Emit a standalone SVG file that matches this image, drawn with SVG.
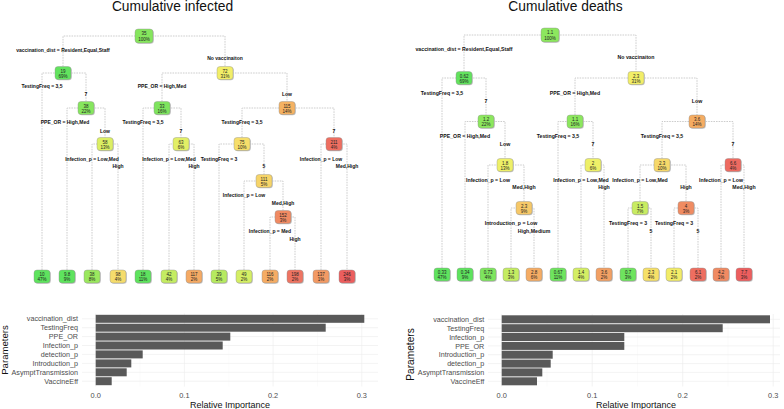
<svg xmlns="http://www.w3.org/2000/svg" xmlns:xlink="http://www.w3.org/1999/xlink" width="784" height="409" viewBox="0 0 784 409">
<style>
.title{font-family:"Liberation Sans",Arial,sans-serif;font-size:13.8px;fill:#111;text-anchor:middle}
.node text{font-family:"Liberation Sans",Arial,sans-serif;font-size:4.5px;fill:#222;text-anchor:middle}
.sh{fill:#c4c4c4}
.bx{stroke:#909090;stroke-width:0.4}
.sl{font-family:"Liberation Sans",Arial,sans-serif;font-weight:bold;font-size:5px;fill:#111;text-anchor:middle}
.slr{font-family:"Liberation Sans",Arial,sans-serif;font-weight:bold;font-size:5.2px;fill:#111;text-anchor:middle}
.cn path{fill:none;stroke:#b8b8b8;stroke-width:0.7;stroke-dasharray:1.6 1}
.gmaj{stroke:#ebebeb;stroke-width:0.6;fill:none}
.gmin{stroke:#f3f3f3;stroke-width:0.35;fill:none}
.bar{fill:#595959}
.cat{font-family:"Liberation Sans",Arial,sans-serif;font-size:7.2px;fill:#4d4d4d;text-anchor:end}
.tick{font-family:"Liberation Sans",Arial,sans-serif;font-size:7.4px;fill:#4d4d4d;text-anchor:middle}
.axt{font-family:"Liberation Sans",Arial,sans-serif;font-size:9px;fill:#111;text-anchor:middle}
</style>
<defs>
<rect id="b" x="-8" y="-6.5" width="16" height="13" rx="3"/>
<rect id="br" x="-9" y="-7" width="18" height="14" rx="3.2"/>
</defs>
<rect width="784" height="409" fill="#fff"/>

<text class="title" x="172.5" y="11">Cumulative infected</text>
<text class="title" x="565.5" y="11">Cumulative deaths</text>

<!-- LEFT TREE connectors -->
<g id="connectors-infected" class="cn">
<path d="M63,66.5V36H225V66.5"/>
<path d="M42,270V73H86V101.5"/>
<path d="M67,270V108H105V137.5"/>
<path d="M92,270V144H118V270"/>
<path d="M162,101.5V73H287V101.5"/>
<path d="M143,270V108H181V137.5"/>
<path d="M169,270V144H194V270"/>
<path d="M242,137.5V108H334V137.5"/>
<path d="M219,270V144H264V174.5"/>
<path d="M244,270V181H283V210.5"/>
<path d="M270,270V217H295V270"/>
<path d="M321,270V144H347V270"/>
</g>

<!-- RIGHT TREE connectors -->
<g id="connectors-deaths" class="cn">
<path d="M464,71.5V35H636V71.5"/>
<path d="M442,268V78H486V115"/>
<path d="M465,268V121.5H505V158.5"/>
<path d="M488,268V165H524V201.5"/>
<path d="M511,268V208H534V268"/>
<path d="M575,115V78H697V115"/>
<path d="M558,268V121.5H593V158.5"/>
<path d="M581,268V165H604V268"/>
<path d="M662,158.5V121.5H733V158.5"/>
<path d="M640,201.5V165H686V201.5"/>
<path d="M628,268V208H651V268"/>
<path d="M674,268V208H698V268"/>
<path d="M721,268V165H744V268"/>
</g>

<!-- split labels left -->
<g id="labels-infected">
<text class="sl" x="63" y="51.8">vaccination_dist = Resident,Equal,Staff</text>
<text class="sl" x="225" y="59.8">No vaccinaiton</text>
<text class="sl" x="42" y="88">TestingFreq = 3,5</text>
<text class="sl" x="86" y="96">7</text>
<text class="sl" x="65" y="123.8">PPE_OR = High,Med</text>
<text class="sl" x="105" y="132.8">Low</text>
<text class="sl" x="92" y="160.8">Infection_p = Low,Med</text>
<text class="sl" x="118" y="167.8">High</text>
<text class="sl" x="162" y="87.8">PPE_OR = High,Med</text>
<text class="sl" x="287" y="95.8">Low</text>
<text class="sl" x="143" y="123.8">TestingFreq = 3,5</text>
<text class="sl" x="181" y="132.8">7</text>
<text class="sl" x="169" y="160.8">Infection_p = Low,Med</text>
<text class="sl" x="194" y="167.8">High</text>
<text class="sl" x="242" y="123.8">TestingFreq = 3,5</text>
<text class="sl" x="334" y="132.8">7</text>
<text class="sl" x="219" y="160.8">TestingFreq = 3</text>
<text class="sl" x="264" y="167.8">5</text>
<text class="sl" x="244" y="196.8">Infection_p = Low</text>
<text class="sl" x="283" y="204.8">Med,High</text>
<text class="sl" x="270" y="232.8">Infection_p = Med</text>
<text class="sl" x="295" y="240.8">High</text>
<text class="sl" x="321" y="160.8">Infection_p = Low</text>
<text class="sl" x="347" y="167.8">Med,High</text>
</g>

<!-- split labels right -->
<g id="labels-deaths">
<text class="slr" x="464" y="50.8">vaccination_dist = Resident,Equal,Staff</text>
<text class="slr" x="636" y="58.8">No vaccinaiton</text>
<text class="slr" x="442" y="94.8">TestingFreq = 3,5</text>
<text class="slr" x="486" y="102.8">7</text>
<text class="slr" x="465" y="137.8">PPE_OR = High,Med</text>
<text class="slr" x="505" y="145.8">Low</text>
<text class="slr" x="488" y="181.8">Infection_p = Low</text>
<text class="slr" x="524" y="188.8">Med,High</text>
<text class="slr" x="511" y="224.8">Introduction_p = Low</text>
<text class="slr" x="534" y="232.8">High,Medium</text>
<text class="slr" x="575" y="94.8">PPE_OR = High,Med</text>
<text class="slr" x="697" y="102.8">Low</text>
<text class="slr" x="558" y="137.8">TestingFreq = 3,5</text>
<text class="slr" x="593" y="145.8">7</text>
<text class="slr" x="581" y="181.8">Infection_p = Low,Med</text>
<text class="slr" x="604" y="188.8">High</text>
<text class="slr" x="662" y="137.8">TestingFreq = 3,5</text>
<text class="slr" x="733" y="145.8">7</text>
<text class="slr" x="640" y="181.8">Infection_p = Low,Med</text>
<text class="slr" x="686" y="188.8">High</text>
<text class="slr" x="628" y="224.8">TestingFreq = 3</text>
<text class="slr" x="651" y="232.8">5</text>
<text class="slr" x="674" y="224.8">TestingFreq = 3</text>
<text class="slr" x="698" y="232.8">5</text>
<text class="slr" x="721" y="181.8">Infection_p = Low</text>
<text class="slr" x="744" y="188.8">Med,High</text>
</g>

<!-- LEFT TREE nodes -->
<g id="L_root" class="node" transform="translate(144,36)"><use href="#br" class="sh" x="0.8" y="0.8"/><use href="#br" class="bx" fill="#86e65e"/><text y="-0.6">35</text><text y="4.6">100%</text></g>
<g id="L_19" class="node" transform="translate(63,73)"><use href="#b" class="sh" x="0.8" y="0.8"/><use href="#b" class="bx" fill="#62e35e"/><text y="-0.5">19</text><text y="4.5">69%</text></g>
<g id="L_72" class="node" transform="translate(225,73)"><use href="#b" class="sh" x="0.8" y="0.8"/><use href="#b" class="bx" fill="#f2ee68"/><text y="-0.5">72</text><text y="4.5">31%</text></g>
<g id="L_38" class="node" transform="translate(86,108)"><use href="#b" class="sh" x="0.8" y="0.8"/><use href="#b" class="bx" fill="#86e65e"/><text y="-0.5">38</text><text y="4.5">22%</text></g>
<g id="L_33" class="node" transform="translate(162,108)"><use href="#b" class="sh" x="0.8" y="0.8"/><use href="#b" class="bx" fill="#7ee45e"/><text y="-0.5">33</text><text y="4.5">16%</text></g>
<g id="L_115" class="node" transform="translate(287,108)"><use href="#b" class="sh" x="0.8" y="0.8"/><use href="#b" class="bx" fill="#f5b262"/><text y="-0.5">115</text><text y="4.5">14%</text></g>
<g id="L_58" class="node" transform="translate(105,144)"><use href="#b" class="sh" x="0.8" y="0.8"/><use href="#b" class="bx" fill="#dcef64"/><text y="-0.5">58</text><text y="4.5">13%</text></g>
<g id="L_63" class="node" transform="translate(181,144)"><use href="#b" class="sh" x="0.8" y="0.8"/><use href="#b" class="bx" fill="#e2ef66"/><text y="-0.5">63</text><text y="4.5">6%</text></g>
<g id="L_75" class="node" transform="translate(242,144)"><use href="#b" class="sh" x="0.8" y="0.8"/><use href="#b" class="bx" fill="#f6de6a"/><text y="-0.5">75</text><text y="4.5">10%</text></g>
<g id="L_211" class="node" transform="translate(334,144)"><use href="#b" class="sh" x="0.8" y="0.8"/><use href="#b" class="bx" fill="#ee6e60"/><text y="-0.5">211</text><text y="4.5">4%</text></g>
<g id="L_111" class="node" transform="translate(264,181)"><use href="#b" class="sh" x="0.8" y="0.8"/><use href="#b" class="bx" fill="#f6d468"/><text y="-0.5">111</text><text y="4.5">5%</text></g>
<g id="L_152" class="node" transform="translate(283,217)"><use href="#b" class="sh" x="0.8" y="0.8"/><use href="#b" class="bx" fill="#f08a62"/><text y="-0.5">152</text><text y="4.5">3%</text></g>

<g id="L_leaf1" class="node" transform="translate(42,276.5)"><use href="#b" class="sh" x="0.8" y="0.8"/><use href="#b" class="bx" fill="#5ee35e"/><text y="-0.5">10</text><text y="4.5">47%</text></g>
<g id="L_leaf2" class="node" transform="translate(67,276.5)"><use href="#b" class="sh" x="0.8" y="0.8"/><use href="#b" class="bx" fill="#5ee35e"/><text y="-0.5">9.8</text><text y="4.5">9%</text></g>
<g id="L_leaf3" class="node" transform="translate(92,276.5)"><use href="#b" class="sh" x="0.8" y="0.8"/><use href="#b" class="bx" fill="#9be85e"/><text y="-0.5">38</text><text y="4.5">8%</text></g>
<g id="L_leaf4" class="node" transform="translate(118,276.5)"><use href="#b" class="sh" x="0.8" y="0.8"/><use href="#b" class="bx" fill="#f5dc6c"/><text y="-0.5">98</text><text y="4.5">4%</text></g>
<g id="L_leaf5" class="node" transform="translate(143,276.5)"><use href="#b" class="sh" x="0.8" y="0.8"/><use href="#b" class="bx" fill="#5ee35e"/><text y="-0.5">18</text><text y="4.5">11%</text></g>
<g id="L_leaf6" class="node" transform="translate(169,276.5)"><use href="#b" class="sh" x="0.8" y="0.8"/><use href="#b" class="bx" fill="#c4ec62"/><text y="-0.5">42</text><text y="4.5">4%</text></g>
<g id="L_leaf7" class="node" transform="translate(194,276.5)"><use href="#b" class="sh" x="0.8" y="0.8"/><use href="#b" class="bx" fill="#f5aa64"/><text y="-0.5">117</text><text y="4.5">2%</text></g>
<g id="L_leaf8" class="node" transform="translate(219,276.5)"><use href="#b" class="sh" x="0.8" y="0.8"/><use href="#b" class="bx" fill="#b6ea60"/><text y="-0.5">39</text><text y="4.5">5%</text></g>
<g id="L_leaf9" class="node" transform="translate(244,276.5)"><use href="#b" class="sh" x="0.8" y="0.8"/><use href="#b" class="bx" fill="#d4ee64"/><text y="-0.5">49</text><text y="4.5">2%</text></g>
<g id="L_leaf10" class="node" transform="translate(270,276.5)"><use href="#b" class="sh" x="0.8" y="0.8"/><use href="#b" class="bx" fill="#f5ac64"/><text y="-0.5">116</text><text y="4.5">2%</text></g>
<g id="L_leaf11" class="node" transform="translate(295,276.5)"><use href="#b" class="sh" x="0.8" y="0.8"/><use href="#b" class="bx" fill="#ee7462"/><text y="-0.5">198</text><text y="4.5">2%</text></g>
<g id="L_leaf12" class="node" transform="translate(321,276.5)"><use href="#b" class="sh" x="0.8" y="0.8"/><use href="#b" class="bx" fill="#f29a64"/><text y="-0.5">137</text><text y="4.5">1%</text></g>
<g id="L_leaf13" class="node" transform="translate(347,276.5)"><use href="#b" class="sh" x="0.8" y="0.8"/><use href="#b" class="bx" fill="#ec5e5e"/><text y="-0.5">246</text><text y="4.5">3%</text></g>

<!-- RIGHT TREE nodes -->
<g id="R_root" class="node" transform="translate(550,35)"><use href="#br" class="sh" x="0.8" y="0.8"/><use href="#br" class="bx" fill="#8ce75e"/><text y="-0.6">1.1</text><text y="4.6">100%</text></g>
<g id="R_062" class="node" transform="translate(464,78)"><use href="#b" class="sh" x="0.8" y="0.8"/><use href="#b" class="bx" fill="#62e35e"/><text y="-0.5">0.62</text><text y="4.5">69%</text></g>
<g id="R_23a" class="node" transform="translate(636,78)"><use href="#b" class="sh" x="0.8" y="0.8"/><use href="#b" class="bx" fill="#f2ee68"/><text y="-0.5">2.3</text><text y="4.5">31%</text></g>
<g id="R_12" class="node" transform="translate(486,121.5)"><use href="#b" class="sh" x="0.8" y="0.8"/><use href="#b" class="bx" fill="#8ce75e"/><text y="-0.5">1.2</text><text y="4.5">22%</text></g>
<g id="R_11" class="node" transform="translate(575,121.5)"><use href="#b" class="sh" x="0.8" y="0.8"/><use href="#b" class="bx" fill="#8ce75e"/><text y="-0.5">1.1</text><text y="4.5">16%</text></g>
<g id="R_36" class="node" transform="translate(697,121.5)"><use href="#b" class="sh" x="0.8" y="0.8"/><use href="#b" class="bx" fill="#f5ac62"/><text y="-0.5">3.6</text><text y="4.5">14%</text></g>
<g id="R_18" class="node" transform="translate(505,165)"><use href="#b" class="sh" x="0.8" y="0.8"/><use href="#b" class="bx" fill="#eef068"/><text y="-0.5">1.8</text><text y="4.5">13%</text></g>
<g id="R_2" class="node" transform="translate(593,165)"><use href="#b" class="sh" x="0.8" y="0.8"/><use href="#b" class="bx" fill="#eef068"/><text y="-0.5">2</text><text y="4.5">6%</text></g>
<g id="R_23b" class="node" transform="translate(662,165)"><use href="#b" class="sh" x="0.8" y="0.8"/><use href="#b" class="bx" fill="#f6d86a"/><text y="-0.5">2.3</text><text y="4.5">10%</text></g>
<g id="R_66" class="node" transform="translate(733,165)"><use href="#b" class="sh" x="0.8" y="0.8"/><use href="#b" class="bx" fill="#ee6a60"/><text y="-0.5">6.6</text><text y="4.5">4%</text></g>
<g id="R_23c" class="node" transform="translate(524,208)"><use href="#b" class="sh" x="0.8" y="0.8"/><use href="#b" class="bx" fill="#f6c868"/><text y="-0.5">2.3</text><text y="4.5">9%</text></g>
<g id="R_15" class="node" transform="translate(640,208)"><use href="#b" class="sh" x="0.8" y="0.8"/><use href="#b" class="bx" fill="#c8ec62"/><text y="-0.5">1.5</text><text y="4.5">7%</text></g>
<g id="R_4" class="node" transform="translate(686,208)"><use href="#b" class="sh" x="0.8" y="0.8"/><use href="#b" class="bx" fill="#f08c62"/><text y="-0.5">4</text><text y="4.5">3%</text></g>

<g id="R_leaf1" class="node" transform="translate(442,274.5)"><use href="#b" class="sh" x="0.8" y="0.8"/><use href="#b" class="bx" fill="#5ee35e"/><text y="-0.5">0.33</text><text y="4.5">47%</text></g>
<g id="R_leaf2" class="node" transform="translate(465,274.5)"><use href="#b" class="sh" x="0.8" y="0.8"/><use href="#b" class="bx" fill="#5ee35e"/><text y="-0.5">0.34</text><text y="4.5">9%</text></g>
<g id="R_leaf3" class="node" transform="translate(488,274.5)"><use href="#b" class="sh" x="0.8" y="0.8"/><use href="#b" class="bx" fill="#7ee55e"/><text y="-0.5">0.73</text><text y="4.5">4%</text></g>
<g id="R_leaf4" class="node" transform="translate(511,274.5)"><use href="#b" class="sh" x="0.8" y="0.8"/><use href="#b" class="bx" fill="#c4ec62"/><text y="-0.5">1.3</text><text y="4.5">3%</text></g>
<g id="R_leaf5" class="node" transform="translate(534,274.5)"><use href="#b" class="sh" x="0.8" y="0.8"/><use href="#b" class="bx" fill="#f5ac64"/><text y="-0.5">2.8</text><text y="4.5">6%</text></g>
<g id="R_leaf6" class="node" transform="translate(558,274.5)"><use href="#b" class="sh" x="0.8" y="0.8"/><use href="#b" class="bx" fill="#6ee45e"/><text y="-0.5">0.67</text><text y="4.5">11%</text></g>
<g id="R_leaf7" class="node" transform="translate(581,274.5)"><use href="#b" class="sh" x="0.8" y="0.8"/><use href="#b" class="bx" fill="#d4ee64"/><text y="-0.5">1.4</text><text y="4.5">4%</text></g>
<g id="R_leaf8" class="node" transform="translate(604,274.5)"><use href="#b" class="sh" x="0.8" y="0.8"/><use href="#b" class="bx" fill="#f2a064"/><text y="-0.5">3.6</text><text y="4.5">2%</text></g>
<g id="R_leaf9" class="node" transform="translate(628,274.5)"><use href="#b" class="sh" x="0.8" y="0.8"/><use href="#b" class="bx" fill="#6ee45e"/><text y="-0.5">0.7</text><text y="4.5">3%</text></g>
<g id="R_leaf10" class="node" transform="translate(651,274.5)"><use href="#b" class="sh" x="0.8" y="0.8"/><use href="#b" class="bx" fill="#f6e068"/><text y="-0.5">2.3</text><text y="4.5">4%</text></g>
<g id="R_leaf11" class="node" transform="translate(674,274.5)"><use href="#b" class="sh" x="0.8" y="0.8"/><use href="#b" class="bx" fill="#f2ec68"/><text y="-0.5">2.1</text><text y="4.5">2%</text></g>
<g id="R_leaf12" class="node" transform="translate(698,274.5)"><use href="#b" class="sh" x="0.8" y="0.8"/><use href="#b" class="bx" fill="#ee6e60"/><text y="-0.5">6.1</text><text y="4.5">2%</text></g>
<g id="R_leaf13" class="node" transform="translate(721,274.5)"><use href="#b" class="sh" x="0.8" y="0.8"/><use href="#b" class="bx" fill="#f08a62"/><text y="-0.5">4.2</text><text y="4.5">1%</text></g>
<g id="R_leaf14" class="node" transform="translate(744,274.5)"><use href="#b" class="sh" x="0.8" y="0.8"/><use href="#b" class="bx" fill="#ec5e5e"/><text y="-0.5">7.7</text><text y="4.5">3%</text></g>

<!-- LEFT BAR CHART -->
<g id="chart-infected">
<g class="gmin">
<path d="M140,313.5V386.5M228.8,313.5V386.5M317.5,313.5V386.5"/>
</g>
<g class="gmaj">
<path d="M95.7,313.5V386.5M184.4,313.5V386.5M273.1,313.5V386.5M361.8,313.5V386.5"/>
<path d="M82,318.8H378M82,327.7H378M82,336.6H378M82,345.5H378M82,354.4H378M82,363.4H378M82,372.3H378M82,381.2H378"/>
</g>
<rect class="bar" x="95.7" y="314.8" width="268.6" height="8"/>
<rect class="bar" x="95.7" y="323.7" width="230" height="8"/>
<rect class="bar" x="95.7" y="332.6" width="134.6" height="8"/>
<rect class="bar" x="95.7" y="341.5" width="127" height="8"/>
<rect class="bar" x="95.7" y="350.4" width="47" height="8"/>
<rect class="bar" x="95.7" y="359.4" width="35.6" height="8"/>
<rect class="bar" x="95.7" y="368.3" width="31" height="8"/>
<rect class="bar" x="95.7" y="377.2" width="16" height="8"/>
<text class="cat" x="78" y="321.4">vaccination_dist</text>
<text class="cat" x="78" y="330.3">TestingFreq</text>
<text class="cat" x="78" y="339.2">PPE_OR</text>
<text class="cat" x="78" y="348.1">Infection_p</text>
<text class="cat" x="78" y="357">detection_p</text>
<text class="cat" x="78" y="366">Introduction_p</text>
<text class="cat" x="78" y="374.9">AsymptTransmission</text>
<text class="cat" x="78" y="383.8">VaccineEff</text>
<text class="tick" x="95.7" y="398.3">0.0</text>
<text class="tick" x="184.4" y="398.3">0.1</text>
<text class="tick" x="273.1" y="398.3">0.2</text>
<text class="tick" x="361.8" y="398.3">0.3</text>
<text class="axt" x="230" y="407.6">Relative Importance</text>
<text class="axt" style="font-size:9.6px" transform="translate(8.4,350) rotate(-90)">Parameters</text>
</g>

<!-- RIGHT BAR CHART -->
<g id="chart-deaths">
<g class="gmin">
<path d="M547,314V386.5M637.5,314V386.5M728,314V386.5"/>
</g>
<g class="gmaj">
<path d="M501.7,314V386.5M592.2,314V386.5M682.7,314V386.5M773.2,314V386.5"/>
<path d="M488,319.3H780M488,328.2H780M488,337H780M488,345.9H780M488,354.7H780M488,363.6H780M488,372.4H780M488,381.3H780"/>
</g>
<rect class="bar" x="501.7" y="315.3" width="268.3" height="8"/>
<rect class="bar" x="501.7" y="324.2" width="221" height="8"/>
<rect class="bar" x="501.7" y="333" width="122.6" height="8"/>
<rect class="bar" x="501.7" y="341.9" width="122.6" height="8"/>
<rect class="bar" x="501.7" y="350.7" width="51" height="8"/>
<rect class="bar" x="501.7" y="359.6" width="49" height="8"/>
<rect class="bar" x="501.7" y="368.4" width="40.6" height="8"/>
<rect class="bar" x="501.7" y="377.3" width="35.3" height="8"/>
<text class="cat" x="484.3" y="321.9">vaccination_dist</text>
<text class="cat" x="484.3" y="330.8">TestingFreq</text>
<text class="cat" x="484.3" y="339.6">Infection_p</text>
<text class="cat" x="484.3" y="348.5">PPE_OR</text>
<text class="cat" x="484.3" y="357.3">Introduction_p</text>
<text class="cat" x="484.3" y="366.2">detection_p</text>
<text class="cat" x="484.3" y="375">AsymptTransmission</text>
<text class="cat" x="484.3" y="383.9">VaccineEff</text>
<text class="tick" x="501.7" y="398.3">0.0</text>
<text class="tick" x="592.2" y="398.3">0.1</text>
<text class="tick" x="682.7" y="398.3">0.2</text>
<text class="tick" x="773.2" y="398.3">0.3</text>
<text class="axt" x="636" y="407.6">Relative Importance</text>
<text class="axt" style="font-size:10.2px" transform="translate(414,354.5) rotate(-90)">Parameters</text>
</g>
</svg>
